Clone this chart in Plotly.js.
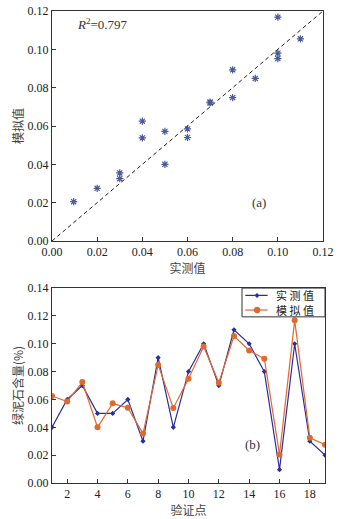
<!DOCTYPE html>
<html>
<head>
<meta charset="utf-8">
<script src="https://cdn.plot.ly/plotly-3.0.1.min.js"></script>
<style>
  body { margin: 0; padding: 0; background: #fff; }
  #chart { width: 341px; height: 519px; }
</style>
</head>
<body>
<div id="chart"></div>
<script>
// validation points 1..19
var pointIds = [1, 2, 3, 4, 5, 6, 7, 8, 9, 10, 11, 12, 13, 14, 15, 16, 17, 18, 19];
var measured = [0.04, 0.06, 0.07, 0.05, 0.05, 0.06, 0.03, 0.09, 0.04, 0.08,
                0.10, 0.07, 0.11, 0.10, 0.08, 0.0096, 0.10, 0.03, 0.02];
var simulated = [0.0625, 0.0585, 0.0725, 0.040, 0.0572, 0.054, 0.0355, 0.0848, 0.0538, 0.0748,
                 0.098, 0.072, 0.1055, 0.0952, 0.0893, 0.0205, 0.1168, 0.0325, 0.0275];
var seriesNames = ['实测值', '模拟值'];
var r2Text = '<i>R</i><sup>2</sup>=0.797';

var serif = 'Liberation Serif, DejaVu Serif, serif';
var cjk = 'Noto Sans CJK SC, sans-serif';
var axisColor = '#333';
var blue = '#2a2d9c';
var orange = '#e0692e';

// the plot area is 273 x 472 px, legend keys are placed in paper units
var pxX = 1 / 273;
var pxY = 1 / 472;
var legendRows = [0.3975, 0.3665];

function legendShapes() {
    let box = {type: 'rect', xref: 'paper', yref: 'paper',
        x0: 0.696, x1: 1, y0: 0.352, y1: 0.413,
        fillcolor: '#fff', line: {color: axisColor, width: 1}, layer: 'above'};
    let colors = [blue, orange];
    let shapes = [box];
    for (let i = 0; i < legendRows.length; i++) {
        let y = legendRows[i];
        shapes.push({type: 'line', xref: 'paper', yref: 'paper',
            x0: 0.708, x1: 0.79, y0: y, y1: y,
            line: {color: colors[i], width: 1.2}, layer: 'above'});
        let cx = 0.751;
        if (i === 0) {
            let dx = 2.5 * pxX, dy = 2.5 * pxY;
            shapes.push({type: 'path', xref: 'paper', yref: 'paper',
                path: 'M' + cx + ',' + (y + dy) + ' L' + (cx + dx) + ',' + y +
                      ' L' + cx + ',' + (y - dy) + ' L' + (cx - dx) + ',' + y + ' Z',
                fillcolor: colors[i], line: {color: colors[i], width: 0}, layer: 'above'});
        } else {
            let dx = 3.2 * pxX, dy = 3.2 * pxY;
            shapes.push({type: 'circle', xref: 'paper', yref: 'paper',
                x0: cx - dx, x1: cx + dx, y0: y - dy, y1: y + dy,
                fillcolor: colors[i], line: {color: colors[i], width: 0}, layer: 'above'});
        }
    }
    return shapes;
}

function legendTexts() {
    return seriesNames.map(function (name, i) {
        return {xref: 'paper', yref: 'paper', x: 0.818, y: legendRows[i], xanchor: 'left',
            yanchor: 'middle', borderpad: 0,
            text: name.split('').join(' '), showarrow: false,
            font: {family: cjk, size: 11, color: '#222'}};
    });
}

function drawChart() {
    let scatterTrace = {
        x: measured,
        y: simulated,
        mode: 'markers',
        type: 'scatter',
        xaxis: 'x',
        yaxis: 'y',
        showlegend: false,
        marker: {symbol: 'asterisk-open', size: 6, color: '#4b5a98', line: {width: 1.2, color: '#4b5a98'}}
    };

    let measuredTrace = {
        x: pointIds,
        y: measured,
        name: seriesNames[0],
        mode: 'lines+markers',
        type: 'scatter',
        xaxis: 'x2',
        yaxis: 'y2',
        line: {color: blue, width: 1.2},
        marker: {symbol: 'diamond', size: 4, color: blue}
    };

    let simulatedTrace = {
        x: pointIds,
        y: simulated,
        name: seriesNames[1],
        mode: 'lines+markers',
        type: 'scatter',
        xaxis: 'x2',
        yaxis: 'y2',
        line: {color: orange, width: 1.2},
        marker: {symbol: 'circle', size: 6, color: orange}
    };

    let baseAxis = {
        showline: true,
        mirror: true,
        linecolor: axisColor,
        linewidth: 1,
        ticks: 'inside',
        ticklen: 4,
        tickcolor: axisColor,
        showgrid: false,
        zeroline: false,
        tickfont: {family: serif, size: 12, color: '#222'}
    };

    let layout = {
        width: 341,
        height: 519,
        margin: {t: 11, r: 16, b: 36, l: 52},
        paper_bgcolor: '#fff',
        plot_bgcolor: '#fff',
        showlegend: false,
        xaxis: Object.assign({}, baseAxis, {
            domain: [0, 0.9927],
            range: [0, 0.12],
            dtick: 0.02,
            tickformat: '.2f',
            anchor: 'y',
            title: {text: '实测值', font: {family: cjk, size: 12, color: '#444'}, standoff: 4}
        }),
        yaxis: Object.assign({}, baseAxis, {
            domain: [0.5127, 1],
            range: [0, 0.12],
            dtick: 0.02,
            tickformat: '.2f',
            anchor: 'x',
            title: {text: '模拟值', font: {family: cjk, size: 12, color: '#444'}, standoff: 1}
        }),
        xaxis2: Object.assign({}, baseAxis, {
            domain: [0, 1],
            range: [1, 19],
            tickvals: [2, 4, 6, 8, 10, 12, 14, 16, 18],
            anchor: 'y2',
            title: {text: '验证点', font: {family: cjk, size: 12, color: '#444'}, standoff: 4}
        }),
        yaxis2: Object.assign({}, baseAxis, {
            domain: [0, 0.413],
            range: [0, 0.14],
            dtick: 0.02,
            tickformat: '.2f',
            anchor: 'x2',
            title: {text: '绿泥石含量(%)', font: {family: cjk, size: 12, color: '#444'}, standoff: 1}
        }),
        shapes: [{
            type: 'line',
            xref: 'x',
            yref: 'y',
            x0: 0, y0: 0, x1: 0.12, y1: 0.12,
            line: {color: '#222', width: 1, dash: '4px,3px'}
        }].concat(legendShapes()),
        annotations: [
            {xref: 'x', yref: 'y', x: 0.01, y: 0.113, xanchor: 'left', text: r2Text,
             showarrow: false, font: {family: serif, size: 13, color: '#333'}},
            {xref: 'x', yref: 'y', x: 0.0915, y: 0.02, text: '(a)',
             showarrow: false, font: {family: serif, size: 13, color: '#333'}},
            {xref: 'x2', yref: 'y2', x: 14.2, y: 0.028, text: '(b)',
             showarrow: false, font: {family: serif, size: 13, color: '#333'}}
        ].concat(legendTexts())
    };

    Plotly.newPlot('chart', [scatterTrace, measuredTrace, simulatedTrace], layout, {staticPlot: true});
}

drawChart();
</script>
</body>
</html>
